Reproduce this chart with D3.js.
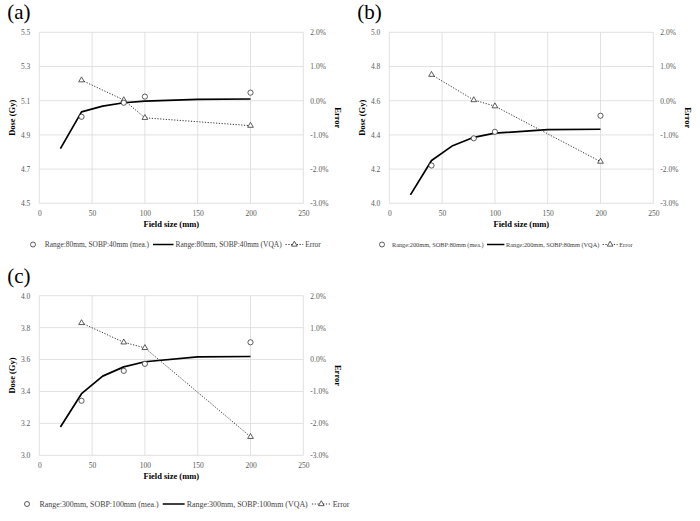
<!DOCTYPE html>
<html><head><meta charset="utf-8">
<script src="https://cdn.jsdelivr.net/npm/d3@7/dist/d3.min.js"></script>
<style>body{margin:0;background:#fff}svg{display:block}text{font-family:"Liberation Serif","Times New Roman",serif}</style>
</head><body><svg id="c" width="700" height="521"></svg>
<script>
const fieldMea = [40, 80, 100, 200];
const fieldVqa = [20, 40, 60, 80, 100, 150, 200];
const xTicks = [0, 50, 100, 150, 200, 250];
const errTicks = [-3, -2, -1, 0, 1, 2];

const meaA = [5.006, 5.088, 5.124, 5.147];
const vqaA = [4.82, 5.035, 5.068, 5.088, 5.098, 5.108, 5.11];
const errA = [0.6, 0.02, -0.5, -0.73];
const yTicksA = [4.5, 4.7, 4.9, 5.1, 5.3, 5.5];

const meaB = [4.221, 4.38, 4.418, 4.512];
const vqaB = [4.049, 4.25, 4.337, 4.386, 4.41, 4.431, 4.433];
const errB = [0.76, 0.02, -0.16, -1.78];
const yTicksB = [4.0, 4.2, 4.4, 4.6, 4.8, 5.0];

const meaC = [3.342, 3.529, 3.573, 3.708];
const vqaC = [3.177, 3.386, 3.496, 3.554, 3.586, 3.617, 3.619];
const errC = [1.146, 0.54, 0.365, -2.42];
const yTicksC = [3.0, 3.2, 3.4, 3.6, 3.8, 4.0];

const labelsA = ["Range:80mm, SOBP:40mm (mea.)", "Range:80mm, SOBP:40mm (VQA)", "Error"];
const labelsB = ["Range:200mm, SOBP:80mm (mea.)", "Range:200mm, SOBP:80mm (VQA)", "Error"];
const labelsC = ["Range:300mm, SOBP:100mm (mea.)", "Range:300mm, SOBP:100mm (VQA)", "Error"];

const svg = d3.select("#c");
const SERIF = '"Liberation Serif","Times New Roman",serif';

function panel(o) {
  const g = svg.append("g");
  const x = d3.scaleLinear().domain([0, 250]).range([o.x0, o.x1]);
  const y = d3.scaleLinear().domain([o.yTicks[0], o.yTicks[o.yTicks.length-1]]).range([o.y1, o.y0]);
  const ye = d3.scaleLinear().domain([-3, 2]).range([o.y1, o.y0]);

  g.append("text").attr("x", o.x0 - 32).attr("y", o.y0 - 13).attr("font-size", 21)
    .style("font-family", SERIF).attr("fill", "#000").text(o.label);

  g.append("g").selectAll("line").data(o.yTicks).join("line")
    .attr("x1", o.x0).attr("x2", o.x1).attr("y1", d => y(d)).attr("y2", d => y(d))
    .attr("stroke", "#d9d9d9").attr("stroke-width", 0.8);
  g.append("g").selectAll("line").data(xTicks).join("line")
    .attr("x1", d => x(d)).attr("x2", d => x(d)).attr("y1", o.y0).attr("y2", o.y1)
    .attr("stroke", "#d9d9d9").attr("stroke-width", 0.8);

  const ax = g.append("g").attr("transform", `translate(0,${o.y1})`)
    .call(d3.axisBottom(x).tickValues(xTicks).tickSize(0).tickPadding(7));
  const ay = g.append("g").attr("transform", `translate(${o.x0},0)`)
    .call(d3.axisLeft(y).tickValues(o.yTicks).tickFormat(d3.format(".1f")).tickSize(0).tickPadding(9));
  const ar = g.append("g").attr("transform", `translate(${o.x1},0)`)
    .call(d3.axisRight(ye).tickValues(errTicks).tickFormat(d => d.toFixed(1) + "%").tickSize(0).tickPadding(7));
  [ax, ay, ar].forEach(a => {
    a.attr("font-family", null);
    a.select(".domain").remove();
    a.selectAll("text").style("font-family", SERIF).attr("font-size", 7.5).attr("fill", "#595959");
  });

  g.append("text").attr("x", (o.x0 + o.x1) / 2).attr("y", o.y1 + 24).attr("text-anchor", "middle")
    .style("font-family", SERIF).attr("font-size", 8.5).attr("font-weight", "bold").text("Field size (mm)");
  g.append("text").attr("transform", `translate(${o.x0 - 24},${(o.y0 + o.y1) / 2}) rotate(-90)`)
    .style("font-family", SERIF).attr("text-anchor", "middle").attr("font-size", 8.5).attr("font-weight", "bold").text("Dose (Gy)");
  g.append("text").attr("transform", `translate(${o.x1 + 32},${(o.y0 + o.y1) / 2}) rotate(90)`)
    .style("font-family", SERIF).attr("text-anchor", "middle").attr("font-size", 8.5).attr("font-weight", "bold").text("Error");

  g.append("path").datum(fieldVqa.map((f, i) => [f, o.vqa[i]]))
    .attr("d", d3.line().x(d => x(d[0])).y(d => y(d[1])))
    .attr("fill", "none").attr("stroke", "#000").attr("stroke-width", 1.7).attr("stroke-linejoin", "round");

  g.append("path").datum(fieldMea.map((f, i) => [f, o.err[i]]))
    .attr("d", d3.line().x(d => x(d[0])).y(d => ye(d[1])))
    .attr("fill", "none").attr("stroke", "#333").attr("stroke-width", 1).attr("stroke-dasharray", "1.2,1.6");
  const tri = d3.symbol().type(d3.symbolTriangle).size(14);
  g.append("g").selectAll("path").data(fieldMea.map((f, i) => [f, o.err[i]])).join("path")
    .attr("d", tri).attr("transform", d => `translate(${x(d[0])},${ye(d[1])})`)
    .attr("fill", "#fff").attr("stroke", "#333").attr("stroke-width", 0.8);

  g.append("g").selectAll("circle").data(fieldMea.map((f, i) => [f, o.mea[i]])).join("circle")
    .attr("cx", d => x(d[0])).attr("cy", d => y(d[1])).attr("r", 2.6)
    .attr("fill", "#fff").attr("stroke", "#333").attr("stroke-width", 0.8);

  // legend: whole row scaled to fit between start (circle centre) and end of "Error"
  const L = g.append("g").attr("transform", `translate(0,${o.ly})`);
  const fs0 = 7.6;
  const t1 = L.append("text").attr("y", 2.7).attr("font-size", fs0).style("font-family", SERIF).attr("fill", "#404040").text(o.labels[0]);
  const t2 = L.append("text").attr("y", 2.7).attr("font-size", fs0).style("font-family", SERIF).attr("fill", "#404040").text(o.labels[1]);
  const t3 = L.append("text").attr("y", 2.7).attr("font-size", fs0).style("font-family", SERIF).attr("fill", "#404040").text(o.labels[2]);
  const gaps = [12, 4, 21, 2, 4, 18, 2];
  const fixed = d3.sum(gaps);
  const natural = t1.node().getComputedTextLength() + t2.node().getComputedTextLength() + t3.node().getComputedTextLength();
  const k = (o.lEnd - o.lStart) / (fixed + natural);
  [t1, t2, t3].forEach(t => t.attr("font-size", fs0 * k));
  let cx = o.lStart;
  L.append("circle").attr("cx", cx).attr("cy", 0).attr("r", 2.5).attr("fill", "#fff").attr("stroke", "#333").attr("stroke-width", 0.8);
  cx += gaps[0] * k;
  t1.attr("x", cx); cx += t1.node().getComputedTextLength() + gaps[1] * k;
  L.append("line").attr("x1", cx).attr("x2", cx + gaps[2] * k).attr("y1", 0).attr("y2", 0).attr("stroke", "#000").attr("stroke-width", 1.5);
  cx += (gaps[2] + gaps[3]) * k;
  t2.attr("x", cx); cx += t2.node().getComputedTextLength() + gaps[4] * k;
  L.append("line").attr("x1", cx).attr("x2", cx + gaps[5] * k).attr("y1", 0).attr("y2", 0).attr("stroke", "#333").attr("stroke-width", 1).attr("stroke-dasharray", "1.2,1.6");
  L.append("path").attr("d", tri).attr("transform", `translate(${cx + gaps[5] * k / 2},0)`).attr("fill", "#fff").attr("stroke", "#333").attr("stroke-width", 0.8);
  cx += (gaps[5] + gaps[6]) * k;
  t3.attr("x", cx);
}

panel({label: "(a)", x0: 39.3, x1: 303.3, y0: 32.3, y1: 203.3, yTicks: yTicksA, mea: meaA, vqa: vqaA, err: errA,
  labels: labelsA, ly: 244.5, lStart: 33, lEnd: 321});
panel({label: "(b)", x0: 389.3, x1: 653.3, y0: 32.3, y1: 203.3, yTicks: yTicksB, mea: meaB, vqa: vqaB, err: errB,
  labels: labelsB, ly: 244.5, lStart: 382, lEnd: 633});
panel({label: "(c)", x0: 39.3, x1: 303.3, y0: 295.7, y1: 455.3, yTicks: yTicksC, mea: meaC, vqa: vqaC, err: errC,
  labels: labelsC, ly: 504, lStart: 27, lEnd: 350});
</script></body></html>
